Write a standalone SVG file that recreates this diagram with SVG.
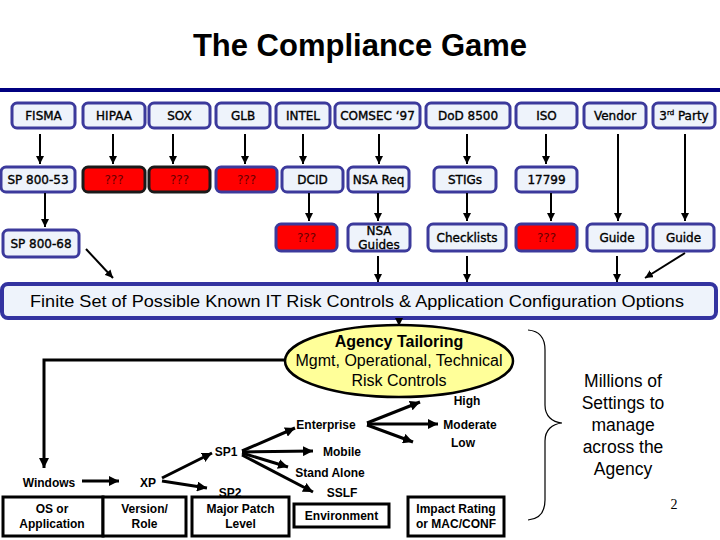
<svg xmlns="http://www.w3.org/2000/svg" width="720" height="540" viewBox="0 0 720 540">
<defs>
<marker id="ah" viewBox="0 0 10 10" refX="10" refY="5" markerWidth="8" markerHeight="8" markerUnits="userSpaceOnUse" orient="auto"><path d="M0,0 L10,5 L0,10 z" fill="#000"/></marker>
<marker id="ahb" viewBox="0 0 10 10" refX="10" refY="5" markerWidth="10" markerHeight="10" markerUnits="userSpaceOnUse" orient="auto"><path d="M0,0 L10,5 L0,10 z" fill="#000"/></marker>
<style>
.bx{fill:#eef3fb;stroke:#3c3a9c;stroke-width:3}
.red{fill:#ff0000;stroke:#3c3a9c;stroke-width:3}
.redk{fill:#ff0000;stroke:#1a1a1a;stroke-width:3}
.lb{font-family:"DejaVu Sans",Verdana,sans-serif;font-size:12px;fill:#000;stroke:#000;stroke-width:0.35;text-anchor:middle}
.q{font-family:"DejaVu Sans",Verdana,sans-serif;font-size:12px;fill:#6a0000;text-anchor:middle}
.c{stroke:#000;stroke-width:2;fill:none;marker-end:url(#ah)}
.cb{stroke:#000;stroke-width:3;fill:none;marker-end:url(#ahb)}
.wb{fill:#fff;stroke:#000;stroke-width:3}
.bl{font-family:"Liberation Sans",Arial,sans-serif;font-size:12px;font-weight:bold;fill:#000;text-anchor:middle}
.ar{font-family:"Liberation Sans",Arial,sans-serif;fill:#000;text-anchor:middle}
</style>
</defs>
<rect width="720" height="540" fill="#fff"/>
<text x="360" y="56" class="ar" font-size="31" font-weight="bold">The Compliance Game</text>
<rect x="0" y="88" width="720" height="4" fill="#000080"/>

<g id="fisma"><rect class="bx" x="12" y="103" width="63" height="25" rx="5"/><text class="lb" x="43.5" y="120">FISMA</text></g>
<g id="hipaa"><rect class="bx" x="83" y="103" width="62" height="25" rx="5"/><text class="lb" x="114" y="120">HIPAA</text></g>
<g id="sox"><rect class="bx" x="149" y="103" width="61" height="25" rx="5"/><text class="lb" x="179.5" y="120">SOX</text></g>
<g id="glb"><rect class="bx" x="216" y="103" width="54" height="25" rx="5"/><text class="lb" x="243" y="120">GLB</text></g>
<g id="intel"><rect class="bx" x="276" y="103" width="54" height="25" rx="5"/><text class="lb" x="303" y="120">INTEL</text></g>
<g id="comsec"><rect class="bx" x="335" y="103" width="85" height="25" rx="5"/><text class="lb" x="377.5" y="120">COMSEC ‘97</text></g>
<g id="dod"><rect class="bx" x="426" y="103" width="84" height="25" rx="5"/><text class="lb" x="468" y="120">DoD 8500</text></g>
<g id="iso"><rect class="bx" x="516" y="103" width="61" height="25" rx="5"/><text class="lb" x="546.5" y="120">ISO</text></g>
<g id="vendor"><rect class="bx" x="584" y="103" width="62" height="25" rx="5"/><text class="lb" x="615" y="120">Vendor</text></g>
<g id="third"><rect class="bx" x="653" y="103" width="62" height="25" rx="5"/><text class="lb" x="684" y="120">3<tspan font-size="7" dy="-5">rd</tspan><tspan dy="5"> Party</tspan></text></g>

<g id="sp80053"><rect class="bx" x="1" y="167" width="74" height="25" rx="5"/><text class="lb" x="38" y="184">SP 800-53</text></g>
<g id="q1"><rect class="redk" x="83" y="167" width="62" height="25" rx="5"/><text class="q" x="114" y="184">???</text></g>
<g id="q2"><rect class="redk" x="149" y="167" width="61" height="25" rx="5"/><text class="q" x="179.5" y="184">???</text></g>
<g id="q3"><rect class="red" x="216" y="167" width="61" height="25" rx="5"/><text class="q" x="246.5" y="184">???</text></g>
<g id="dcid"><rect class="bx" x="282" y="167" width="61" height="25" rx="5"/><text class="lb" x="312.5" y="184">DCID</text></g>
<g id="nsareq"><rect class="bx" x="348" y="167" width="61" height="25" rx="5"/><text class="lb" x="378.5" y="184">NSA Req</text></g>
<g id="stigs"><rect class="bx" x="434" y="167" width="62" height="25" rx="5"/><text class="lb" x="465" y="184">STIGs</text></g>
<g id="n17799"><rect class="bx" x="516" y="167" width="61" height="25" rx="5"/><text class="lb" x="546.5" y="184">17799</text></g>

<g id="sp80068"><rect class="bx" x="3" y="230" width="76" height="27" rx="5"/><text class="lb" x="41" y="248">SP 800-68</text></g>
<g id="q4"><rect class="red" x="276" y="224" width="61" height="27" rx="5"/><text class="q" x="306.5" y="242">???</text></g>
<g id="nsaguides"><rect class="bx" x="348" y="224" width="62" height="27" rx="5"/><text class="lb" x="379" y="235">NSA</text><text class="lb" x="379" y="249">Guides</text></g>
<g id="checklists"><rect class="bx" x="428" y="224" width="78" height="27" rx="5"/><text class="lb" x="467" y="242">Checklists</text></g>
<g id="q5"><rect class="red" x="516" y="224" width="61" height="27" rx="5"/><text class="q" x="546.5" y="242">???</text></g>
<g id="guide1"><rect class="bx" x="587" y="224" width="60" height="27" rx="5"/><text class="lb" x="617" y="242">Guide</text></g>
<g id="guide2"><rect class="bx" x="653" y="224" width="61" height="27" rx="5"/><text class="lb" x="683.5" y="242">Guide</text></g>

<g id="banner"><rect x="2" y="284" width="714" height="34" rx="6" fill="#eef3fb" stroke="#3333a0" stroke-width="4"/><text x="357" y="307" font-family="'Liberation Sans',Arial,sans-serif" font-size="17" text-anchor="middle" textLength="654" lengthAdjust="spacingAndGlyphs">Finite Set of Possible Known IT Risk Controls &amp; Application Configuration Options</text></g>

<g id="tailoring"><ellipse cx="399" cy="361" rx="114" ry="36" fill="#ffff99" stroke="#000" stroke-width="2.5"/>
<text class="ar" x="399" y="347" font-size="16" font-weight="bold">Agency Tailoring</text>
<text class="ar" x="399" y="366" font-size="16">Mgmt, Operational, Technical</text>
<text class="ar" x="399" y="386" font-size="16">Risk Controls</text></g>

<g id="labels">
<text class="bl" x="49" y="487">Windows</text>
<text class="bl" x="148" y="487">XP</text>
<text class="bl" x="226" y="456">SP1</text>
<text class="bl" x="230" y="497">SP2</text>
<text class="bl" x="326" y="429">Enterprise</text>
<text class="bl" x="342" y="456">Mobile</text>
<text class="bl" x="330" y="477">Stand Alone</text>
<text class="bl" x="342" y="497">SSLF</text>
<text class="bl" x="467" y="405">High</text>
<text class="bl" x="470" y="429">Moderate</text>
<text class="bl" x="463" y="447">Low</text>
</g>

<g id="os"><rect class="wb" x="3" y="497" width="100" height="39"/><text class="bl" x="52" y="513">OS or</text><text class="bl" x="52" y="528">Application</text></g>
<g id="version"><rect class="wb" x="103" y="497" width="83" height="39"/><text class="bl" x="144.5" y="513">Version/</text><text class="bl" x="144.5" y="528">Role</text></g>
<g id="patch"><rect class="wb" x="192" y="497" width="97" height="39"/><text class="bl" x="240.5" y="513">Major Patch</text><text class="bl" x="240.5" y="528">Level</text></g>
<g id="environment"><rect class="wb" x="294" y="504" width="95" height="23"/><text class="bl" x="341.5" y="520">Environment</text></g>
<g id="impact"><rect class="wb" x="408" y="497" width="96" height="39"/><text class="bl" x="456" y="513">Impact Rating</text><text class="bl" x="456" y="528">or MAC/CONF</text></g>

<g id="millions"><path d="M528,330 C540,331 545,338 545,350 L545,405 C545,416 552,422 562,423 C552,424 545,430 545,441 L545,500 C545,512 540,519 528,520" fill="none" stroke="#000" stroke-width="1.2"/>
<text class="ar" font-size="17.5" x="623" y="387">Millions of</text>
<text class="ar" font-size="17.5" x="623" y="409">Settings to</text>
<text class="ar" font-size="17.5" x="623" y="431">manage</text>
<text class="ar" font-size="17.5" x="623" y="453">across the</text>
<text class="ar" font-size="17.5" x="623" y="475">Agency</text>
<text x="674" y="509" font-family="'Liberation Serif','Times New Roman',serif" font-size="14" text-anchor="middle">2</text></g>

<g id="connectors">
<line class="c" x1="40" y1="134" x2="40" y2="164"/>
<line class="c" x1="113" y1="134" x2="113" y2="164"/>
<line class="c" x1="173" y1="134" x2="173" y2="164"/>
<line class="c" x1="245" y1="134" x2="245" y2="164"/>
<line class="c" x1="303" y1="134" x2="303" y2="164"/>
<line class="c" x1="379" y1="134" x2="379" y2="164"/>
<line class="c" x1="467" y1="134" x2="467" y2="164"/>
<line class="c" x1="546" y1="134" x2="546" y2="164"/>
<line class="c" x1="618" y1="134" x2="618" y2="221"/>
<line class="c" x1="685" y1="134" x2="685" y2="221"/>
<line class="c" x1="45" y1="193" x2="45" y2="227"/>
<line class="c" x1="309" y1="193" x2="309" y2="221"/>
<line class="c" x1="378" y1="193" x2="378" y2="221"/>
<line class="c" x1="467" y1="193" x2="467" y2="221"/>
<line class="c" x1="551" y1="193" x2="551" y2="221"/>
<line class="c" x1="378" y1="256" x2="378" y2="282"/>
<line class="c" x1="467" y1="256" x2="467" y2="282"/>
<line class="c" x1="617" y1="256" x2="617" y2="282"/>
<line class="c" x1="86" y1="249" x2="113" y2="278"/>
<line class="c" x1="685" y1="253" x2="645" y2="278"/>
<line class="c" x1="399" y1="318" x2="399" y2="326"/>
<polyline class="cb" points="286,360 44,360 44,468"/>
<line class="cb" x1="82" y1="481" x2="119" y2="481"/>
<line class="cb" x1="162" y1="478" x2="212" y2="453"/>
<line class="cb" x1="162" y1="481" x2="207" y2="488"/>
<line class="cb" x1="242" y1="451" x2="295" y2="428"/>
<line class="cb" x1="242" y1="452" x2="313" y2="451"/>
<line class="cb" x1="242" y1="453" x2="288" y2="467"/>
<line class="cb" x1="242" y1="455" x2="313" y2="492"/>
<line class="cb" x1="367" y1="423" x2="420" y2="402"/>
<line class="cb" x1="367" y1="424" x2="438" y2="424"/>
<line class="cb" x1="367" y1="425" x2="413" y2="442"/>
</g>
</svg>
